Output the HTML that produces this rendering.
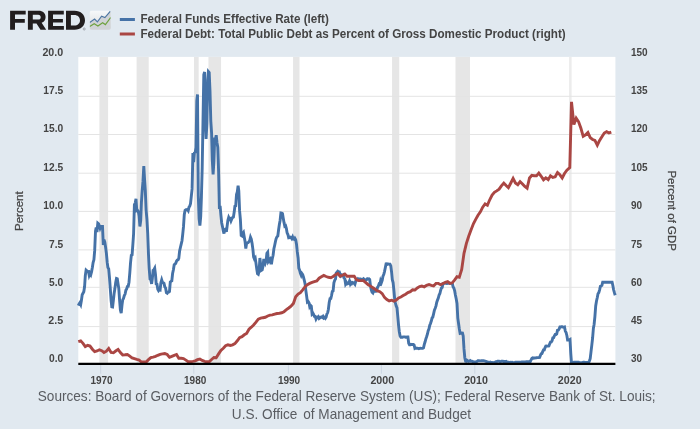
<!DOCTYPE html>
<html><head><meta charset="utf-8"><title>FRED Graph</title>
<style>
html,body{margin:0;padding:0;}
body{width:700px;height:429px;background:#e1e9f0;position:relative;overflow:hidden;font-family:"Liberation Sans",sans-serif;}
</style></head><body>
<svg width="700" height="429" viewBox="0 0 700 429" style="position:absolute;left:0;top:0;will-change:transform">
<rect x="78.3" y="56.9" width="537.1" height="306.8" fill="#fff"/>
<rect x="99.40" y="56.9" width="8.70" height="306.8" fill="#e6e6e6"/>
<rect x="136.60" y="56.9" width="12.10" height="306.8" fill="#e6e6e6"/>
<rect x="194.00" y="56.9" width="4.66" height="306.8" fill="#e6e6e6"/>
<rect x="208.45" y="56.9" width="12.60" height="306.8" fill="#e6e6e6"/>
<rect x="293.07" y="56.9" width="6.43" height="306.8" fill="#e6e6e6"/>
<rect x="392.07" y="56.9" width="7.18" height="306.8" fill="#e6e6e6"/>
<rect x="455.50" y="56.9" width="14.50" height="306.8" fill="#e6e6e6"/>
<rect x="569.07" y="56.9" width="2.53" height="306.8" fill="#ececec"/>
<line x1="78.3" x2="615.4" y1="96.3" y2="96.3" stroke="#e4e4e4" stroke-width="1"/>
<line x1="78.3" x2="615.4" y1="134.5" y2="134.5" stroke="#e4e4e4" stroke-width="1"/>
<line x1="78.3" x2="615.4" y1="173.2" y2="173.2" stroke="#e4e4e4" stroke-width="1"/>
<line x1="78.3" x2="615.4" y1="211.4" y2="211.4" stroke="#e4e4e4" stroke-width="1"/>
<line x1="78.3" x2="615.4" y1="249.9" y2="249.9" stroke="#e4e4e4" stroke-width="1"/>
<line x1="78.3" x2="615.4" y1="287.3" y2="287.3" stroke="#e4e4e4" stroke-width="1"/>
<line x1="78.3" x2="615.4" y1="326.6" y2="326.6" stroke="#e4e4e4" stroke-width="1"/>
<line x1="100.7" x2="100.7" y1="363.7" y2="373.7" stroke="#ccd6e2" stroke-width="1"/>
<line x1="193.8" x2="193.8" y1="363.7" y2="373.7" stroke="#ccd6e2" stroke-width="1"/>
<line x1="288.4" x2="288.4" y1="363.7" y2="373.7" stroke="#ccd6e2" stroke-width="1"/>
<line x1="381.4" x2="381.4" y1="363.7" y2="373.7" stroke="#ccd6e2" stroke-width="1"/>
<line x1="474.8" x2="474.8" y1="363.7" y2="373.7" stroke="#ccd6e2" stroke-width="1"/>
<line x1="569.5" x2="569.5" y1="363.7" y2="373.7" stroke="#ccd6e2" stroke-width="1"/>
<path d="M78.3 305.7 L79.1 304.0 L79.9 302.7 L80.7 304.4 L81.4 300.5 L82.2 294.7 L83.0 293.2 L83.8 291.7 L84.6 286.5 L85.3 275.6 L86.1 270.2 L86.9 270.9 L87.7 271.6 L88.5 271.5 L89.2 275.3 L90.0 273.3 L90.8 274.7 L91.6 271.6 L92.4 267.3 L93.1 262.6 L93.9 259.8 L94.7 250.4 L95.5 231.1 L96.2 227.6 L97.0 232.0 L97.8 223.1 L98.6 223.8 L99.4 226.0 L100.1 228.3 L100.9 226.5 L101.7 226.4 L102.5 226.4 L103.3 245.0 L104.0 239.8 L104.8 242.1 L105.6 247.3 L106.4 253.4 L107.2 262.4 L107.9 267.5 L108.7 268.9 L109.5 278.0 L110.3 288.8 L111.1 300.4 L111.8 306.8 L112.6 307.0 L113.4 300.1 L114.2 292.9 L114.9 288.6 L115.7 282.5 L116.5 278.5 L117.3 278.8 L118.1 284.2 L118.8 288.6 L119.6 300.4 L120.4 310.0 L121.2 313.2 L122.0 305.1 L122.7 299.9 L123.5 298.4 L124.3 295.5 L125.1 294.1 L125.9 290.1 L126.6 289.2 L127.4 286.5 L128.2 286.3 L129.0 282.2 L129.8 272.8 L130.5 263.1 L131.3 255.3 L132.1 254.8 L132.9 243.8 L133.6 233.8 L134.4 204.6 L135.2 203.1 L136.0 198.8 L136.8 210.6 L137.5 210.3 L138.3 211.5 L139.1 216.1 L139.9 226.5 L140.7 220.7 L141.4 202.9 L142.2 190.7 L143.0 181.2 L143.8 166.1 L144.6 180.0 L145.3 190.3 L146.1 209.8 L146.9 219.2 L147.7 233.2 L148.5 254.6 L149.2 268.3 L150.0 279.0 L150.8 279.7 L151.6 283.9 L152.3 278.8 L153.1 270.4 L153.9 269.8 L154.7 268.3 L155.5 274.7 L156.2 283.9 L157.0 284.2 L157.8 289.2 L158.6 290.7 L159.4 289.7 L160.1 290.0 L160.9 282.8 L161.7 279.9 L162.5 282.5 L163.3 282.8 L164.0 283.4 L164.8 286.9 L165.6 288.0 L166.4 292.6 L167.2 293.2 L167.9 292.1 L168.7 292.0 L169.5 291.4 L170.3 281.9 L171.0 281.3 L171.8 280.8 L172.6 273.5 L173.4 269.8 L174.2 264.7 L174.9 264.1 L175.7 263.4 L176.5 261.2 L177.3 260.0 L178.1 259.8 L178.8 258.3 L179.6 251.1 L180.4 247.5 L181.2 244.2 L182.0 240.7 L182.7 234.5 L183.5 226.7 L184.3 214.4 L185.1 210.3 L185.9 209.7 L186.6 209.8 L187.4 209.4 L188.2 210.6 L189.0 207.1 L189.7 206.3 L190.5 203.6 L191.3 196.4 L192.1 188.9 L192.9 153.1 L193.6 162.1 L194.4 152.9 L195.2 152.3 L196.0 147.6 L196.8 100.8 L197.5 94.4 L198.3 195.8 L199.1 218.9 L199.9 225.6 L200.7 216.7 L201.4 197.4 L202.2 167.8 L203.0 121.3 L203.8 74.6 L204.6 71.9 L205.3 120.1 L206.1 138.9 L206.9 123.3 L207.7 80.4 L208.4 71.6 L209.2 72.5 L210.0 91.1 L210.8 121.0 L211.6 133.1 L212.3 160.1 L213.1 174.5 L213.9 161.5 L214.7 137.6 L215.5 139.2 L216.2 135.2 L217.0 142.7 L217.8 147.3 L218.6 171.1 L219.4 208.9 L220.1 206.0 L220.9 215.2 L221.7 223.0 L222.5 226.8 L223.3 230.9 L224.0 233.5 L224.8 229.6 L225.6 229.1 L226.4 231.7 L227.1 226.4 L227.9 220.4 L228.7 217.5 L229.5 219.2 L230.3 218.7 L231.0 220.8 L231.8 218.9 L232.6 217.5 L233.4 217.0 L234.2 212.1 L234.9 206.3 L235.7 205.9 L236.5 194.5 L237.3 191.9 L238.1 185.7 L238.8 190.9 L239.6 210.9 L240.4 219.5 L241.2 235.5 L242.0 236.0 L242.7 233.7 L243.5 232.5 L244.3 237.2 L245.1 241.8 L245.8 248.5 L246.6 243.2 L247.4 242.9 L248.2 242.6 L249.0 241.5 L249.7 240.6 L250.5 237.2 L251.3 239.2 L252.1 243.5 L252.9 249.3 L253.6 256.8 L254.4 258.9 L255.2 257.9 L256.0 263.4 L256.8 269.3 L257.5 273.6 L258.3 274.2 L259.1 271.3 L259.9 258.0 L260.7 265.4 L261.4 270.4 L262.2 269.9 L263.0 266.3 L263.8 258.9 L264.5 260.8 L265.3 263.1 L266.1 260.8 L266.9 253.3 L267.7 252.2 L268.4 261.4 L269.2 260.2 L270.0 259.2 L270.8 263.1 L271.6 263.1 L272.3 258.6 L273.1 255.3 L273.9 248.8 L274.7 245.2 L275.5 241.2 L276.2 238.4 L277.0 236.8 L277.8 236.0 L278.6 229.7 L279.4 224.2 L280.1 220.5 L280.9 213.0 L281.7 213.2 L282.5 213.7 L283.2 217.9 L284.0 222.4 L284.8 226.2 L285.6 225.7 L286.4 228.5 L287.1 232.9 L287.9 234.5 L288.7 237.8 L289.5 237.7 L290.3 237.1 L291.0 237.4 L291.8 238.6 L292.6 236.9 L293.4 239.0 L294.2 239.4 L294.9 238.3 L295.7 239.7 L296.5 244.2 L297.3 251.9 L298.1 258.0 L298.8 268.1 L299.6 270.1 L300.4 273.3 L301.2 275.3 L301.9 273.5 L302.7 274.7 L303.5 277.1 L304.3 280.3 L305.1 284.0 L305.8 290.1 L306.6 295.9 L307.4 302.1 L308.2 301.6 L309.0 302.8 L309.7 306.6 L310.5 305.3 L311.3 306.2 L312.1 314.0 L312.9 313.2 L313.6 314.5 L314.4 316.3 L315.2 316.4 L316.0 319.0 L316.8 317.5 L317.5 317.4 L318.3 316.7 L319.1 318.4 L319.9 317.8 L320.6 317.2 L321.4 316.9 L322.2 317.4 L323.0 316.4 L323.8 318.0 L324.5 317.5 L325.3 318.4 L326.1 317.1 L326.9 314.0 L327.7 312.6 L328.4 309.2 L329.2 302.4 L330.0 298.7 L330.8 298.5 L331.6 295.3 L332.3 291.4 L333.1 290.9 L333.9 282.8 L334.7 280.3 L335.5 279.1 L336.2 273.2 L337.0 272.2 L337.8 271.2 L338.6 271.8 L339.3 271.9 L340.1 274.2 L340.9 275.9 L341.7 275.0 L342.5 275.6 L343.2 275.0 L344.0 278.0 L344.8 278.7 L345.6 283.9 L346.4 282.5 L347.1 283.9 L347.9 283.6 L348.7 283.1 L349.5 281.1 L350.3 283.9 L351.0 282.6 L351.8 283.6 L352.6 282.5 L353.4 282.8 L354.2 283.4 L354.9 284.3 L355.7 281.3 L356.5 279.4 L357.3 279.6 L358.0 278.7 L358.8 279.3 L359.6 279.0 L360.4 279.0 L361.2 279.6 L361.9 279.3 L362.7 279.6 L363.5 278.7 L364.3 279.4 L365.1 279.7 L365.8 280.3 L366.6 279.7 L367.4 278.7 L368.2 279.0 L369.0 278.8 L369.7 279.4 L370.5 286.2 L371.3 289.8 L372.1 292.1 L372.9 292.9 L373.6 290.9 L374.4 290.1 L375.2 291.2 L376.0 291.2 L376.7 290.9 L377.5 287.4 L378.3 286.2 L379.1 283.9 L379.9 284.2 L380.6 280.8 L381.4 282.6 L382.2 280.3 L383.0 276.1 L383.8 274.2 L384.5 271.6 L385.3 267.8 L386.1 263.8 L386.9 263.7 L387.7 264.3 L388.4 264.0 L389.2 264.1 L390.0 264.1 L390.8 265.8 L391.6 272.2 L392.3 279.7 L393.1 282.5 L393.9 290.3 L394.7 299.3 L395.4 303.0 L396.2 306.0 L397.0 307.9 L397.8 316.7 L398.6 325.6 L399.3 331.7 L400.1 335.9 L400.9 337.2 L401.7 337.1 L402.5 337.2 L403.2 336.9 L404.0 336.9 L404.8 336.9 L405.6 337.2 L406.4 337.1 L407.1 336.9 L407.9 336.9 L408.7 343.2 L409.5 344.7 L410.3 344.7 L411.0 344.4 L411.8 344.6 L412.6 344.4 L413.4 344.4 L414.1 345.0 L414.9 348.3 L415.7 347.9 L416.5 348.3 L417.3 348.3 L418.0 348.4 L418.8 348.7 L419.6 348.4 L420.4 348.3 L421.2 348.4 L421.9 348.4 L422.7 348.4 L423.5 347.9 L424.3 344.4 L425.1 341.8 L425.8 339.1 L426.6 336.8 L427.4 334.2 L428.2 330.7 L429.0 328.8 L429.7 325.5 L430.5 323.5 L431.3 321.0 L432.1 317.8 L432.8 317.2 L433.6 313.8 L434.4 310.2 L435.2 308.3 L436.0 305.9 L436.7 302.5 L437.5 300.1 L438.3 298.1 L439.1 295.0 L439.9 293.5 L440.6 290.4 L441.4 288.1 L442.2 287.4 L443.0 283.6 L443.8 283.4 L444.5 283.4 L445.3 283.4 L446.1 283.4 L446.9 283.6 L447.7 283.4 L448.4 283.2 L449.2 283.2 L450.0 283.4 L450.8 283.4 L451.5 283.4 L452.3 283.2 L453.1 286.9 L453.9 288.1 L454.7 290.9 L455.4 295.0 L456.2 298.8 L457.0 303.4 L457.8 318.1 L458.6 323.8 L459.3 328.8 L460.1 333.4 L460.9 333.1 L461.7 333.0 L462.5 333.1 L463.2 336.0 L464.0 348.9 L464.8 357.7 L465.6 361.3 L466.4 361.4 L467.1 360.3 L467.9 360.9 L468.7 361.4 L469.5 360.9 L470.2 360.5 L471.0 361.3 L471.8 361.3 L472.6 361.4 L473.4 361.9 L474.1 361.9 L474.9 361.9 L475.7 362.0 L476.5 361.7 L477.3 361.3 L478.0 360.6 L478.8 360.6 L479.6 360.9 L480.4 360.9 L481.2 360.8 L481.9 360.8 L482.7 360.8 L483.5 360.8 L484.3 360.9 L485.1 361.1 L485.8 361.3 L486.6 361.6 L487.4 362.2 L488.2 362.3 L488.9 362.3 L489.7 362.6 L490.5 362.2 L491.3 362.5 L492.1 362.6 L492.8 362.5 L493.6 362.6 L494.4 362.5 L495.2 362.2 L496.0 361.7 L496.7 361.6 L497.5 361.3 L498.3 361.3 L499.1 361.3 L499.9 361.7 L500.6 361.6 L501.4 361.3 L502.2 361.3 L503.0 361.3 L503.8 361.6 L504.5 361.4 L505.3 361.6 L506.1 361.4 L506.9 362.0 L507.6 362.3 L508.4 362.3 L509.2 362.5 L510.0 362.5 L510.8 362.3 L511.5 362.5 L512.3 362.3 L513.1 362.6 L513.9 362.6 L514.7 362.5 L515.4 362.3 L516.2 362.3 L517.0 362.2 L517.8 362.3 L518.6 362.3 L519.3 362.3 L520.1 362.3 L520.9 362.3 L521.7 361.9 L522.5 362.0 L523.2 362.0 L524.0 362.0 L524.8 361.9 L525.6 361.9 L526.3 361.7 L527.1 361.7 L527.9 361.6 L528.7 361.6 L529.5 361.9 L530.2 361.9 L531.0 360.0 L531.8 358.5 L532.6 357.9 L533.4 358.2 L534.1 358.0 L534.9 358.0 L535.7 357.9 L536.5 357.7 L537.3 357.6 L538.0 357.6 L538.8 357.6 L539.6 357.4 L540.4 355.4 L541.2 353.8 L541.9 353.6 L542.7 351.6 L543.5 349.9 L544.3 349.8 L545.0 347.8 L545.8 346.1 L546.6 346.0 L547.4 346.1 L548.2 346.1 L548.9 346.0 L549.7 343.8 L550.5 342.1 L551.3 342.0 L552.1 340.6 L552.8 337.9 L553.6 337.7 L554.4 335.9 L555.2 334.5 L556.0 334.5 L556.7 333.9 L557.5 330.2 L558.3 330.1 L559.1 329.0 L559.9 327.0 L560.6 327.0 L561.4 326.8 L562.2 326.7 L563.0 327.1 L563.7 327.3 L564.5 327.0 L565.3 331.1 L566.1 332.5 L566.9 335.7 L567.6 340.0 L568.4 340.0 L569.2 340.0 L570.0 339.5 L570.8 353.8 L571.5 362.9 L572.3 362.9 L573.1 362.5 L573.9 362.3 L574.7 362.2 L575.4 362.3 L576.2 362.3 L577.0 362.3 L577.8 362.3 L578.6 362.3 L579.3 362.5 L580.1 362.6 L580.9 362.6 L581.7 362.8 L582.4 362.5 L583.2 362.2 L584.0 362.3 L584.8 362.5 L585.6 362.5 L586.3 362.5 L587.1 362.5 L587.9 362.5 L588.7 362.5 L589.5 360.6 L590.2 358.7 L591.0 351.9 L591.8 345.2 L592.6 338.0 L593.4 328.1 L594.1 324.5 L594.9 316.6 L595.7 305.9 L596.5 301.0 L597.3 297.5 L598.0 293.8 L598.8 292.6 L599.6 289.8 L600.4 286.3 L601.1 286.0 L601.9 285.4 L602.7 282.2 L603.5 282.2 L604.3 282.2 L605.0 282.2 L605.8 282.2 L606.6 282.2 L607.4 282.2 L608.2 282.2 L608.9 282.2 L609.7 282.2 L610.5 282.2 L611.3 282.2 L612.1 282.2 L612.8 285.2 L613.6 289.8 L614.4 292.7 L615.2 295.2" fill="none" stroke="#4572A7" stroke-width="2.9" stroke-linejoin="miter" stroke-miterlimit="4" stroke-linecap="butt"/>
<path d="M78.3 341.6 L80.7 340.8 L83.0 343.3 L85.3 346.6 L87.7 345.3 L90.0 346.1 L92.4 349.2 L94.7 351.7 L97.0 351.0 L99.4 349.8 L101.7 350.7 L104.0 352.5 L106.4 351.2 L108.7 348.5 L111.1 352.5 L113.4 352.8 L115.7 351.0 L118.1 349.4 L120.4 352.5 L122.7 355.0 L125.1 354.8 L127.4 354.5 L129.8 356.1 L132.1 358.0 L134.4 358.7 L136.8 359.4 L139.1 360.0 L141.4 362.0 L143.8 362.0 L146.1 362.0 L148.5 359.6 L150.8 357.6 L153.1 357.1 L155.5 356.4 L157.8 355.3 L160.1 354.3 L162.5 353.9 L164.8 353.6 L167.2 354.5 L169.5 357.3 L171.8 356.3 L174.2 355.3 L176.5 354.5 L178.8 358.3 L181.2 358.2 L183.5 358.6 L185.9 360.1 L188.2 361.7 L190.5 361.8 L192.9 361.4 L195.2 360.9 L197.5 359.7 L199.9 359.0 L202.2 360.4 L204.6 361.4 L206.9 361.8 L209.2 361.8 L211.6 359.5 L213.9 357.5 L216.2 357.8 L218.6 353.9 L220.9 350.4 L223.3 348.2 L225.6 345.7 L227.9 344.8 L230.3 345.5 L232.6 344.8 L234.9 343.6 L237.3 340.8 L239.6 337.6 L242.0 336.7 L244.3 334.8 L246.6 333.4 L249.0 329.2 L251.3 327.2 L253.6 325.0 L256.0 322.1 L258.3 319.1 L260.7 318.2 L263.0 317.7 L265.3 317.3 L267.7 316.0 L270.0 315.1 L272.3 314.9 L274.7 314.1 L277.0 313.5 L279.4 313.2 L281.7 312.8 L284.0 311.7 L286.4 309.7 L288.7 308.0 L291.0 306.2 L293.4 303.4 L295.7 296.8 L298.1 294.1 L300.4 292.6 L302.7 289.8 L305.1 286.7 L307.4 284.7 L309.7 283.4 L312.1 282.4 L314.4 281.6 L316.8 280.9 L319.1 278.2 L321.4 276.8 L323.8 275.4 L326.1 276.5 L328.4 277.3 L330.8 277.7 L333.1 276.5 L335.5 274.7 L337.8 273.6 L340.1 276.3 L342.5 275.2 L344.8 274.0 L347.1 276.3 L349.5 276.3 L351.8 276.3 L354.2 276.3 L356.5 279.8 L358.8 280.6 L361.2 280.6 L363.5 280.6 L365.8 282.7 L368.2 284.7 L370.5 286.1 L372.9 287.7 L375.2 289.3 L377.5 290.9 L379.9 291.7 L382.2 293.6 L384.5 297.4 L386.9 299.5 L389.2 301.0 L391.6 300.2 L393.9 301.2 L396.2 300.0 L398.6 297.9 L400.9 297.0 L403.2 295.6 L405.6 294.2 L407.9 292.6 L410.3 291.7 L412.6 289.8 L414.9 290.0 L417.3 287.9 L419.6 286.6 L421.9 286.0 L424.3 286.8 L426.6 285.3 L429.0 284.5 L431.3 285.4 L433.6 286.0 L436.0 283.4 L438.3 283.4 L440.6 284.7 L443.0 283.5 L445.3 282.4 L447.7 281.6 L450.0 283.4 L452.3 282.8 L454.7 279.8 L457.0 276.6 L459.3 277.3 L461.7 269.4 L464.0 253.3 L466.4 243.4 L468.7 236.2 L471.0 230.1 L473.4 223.8 L475.7 219.4 L478.0 215.3 L480.4 211.8 L482.7 207.2 L485.1 204.0 L487.4 205.3 L489.7 199.8 L492.1 195.1 L494.4 192.4 L496.7 190.9 L499.1 189.2 L501.4 185.9 L503.8 183.1 L506.1 185.5 L508.4 187.7 L510.8 183.0 L513.1 178.4 L515.4 183.0 L517.8 184.7 L520.1 181.7 L522.5 184.0 L524.8 186.5 L527.1 188.3 L529.5 177.9 L531.8 175.4 L534.1 175.7 L536.5 175.8 L538.8 173.0 L541.2 176.3 L543.5 179.9 L545.8 177.9 L548.2 179.7 L550.5 175.8 L552.8 177.4 L555.2 176.8 L557.5 172.5 L559.9 174.8 L562.2 178.0 L564.5 173.5 L566.9 170.2 L569.8 167.5 L571.5 101.9 L573.9 124.6 L576.2 118.2 L578.6 121.8 L580.9 128.3 L583.2 136.3 L585.6 134.8 L587.9 132.5 L590.2 137.6 L592.6 139.5 L594.9 140.4 L597.3 145.2 L599.6 140.4 L601.9 136.7 L604.3 133.0 L606.6 131.7 L608.9 133.0 L611.3 132.2" fill="none" stroke="#AA4643" stroke-width="2.9" stroke-linejoin="miter" stroke-miterlimit="4" stroke-linecap="butt"/>
<line x1="78.3" x2="615.4" y1="363.8" y2="363.8" stroke="#000" stroke-width="2.2"/>
<line x1="119.8" x2="134.9" y1="19.5" y2="19.5" stroke="#4572A7" stroke-width="3"/>
<line x1="119.8" x2="134.9" y1="34" y2="34" stroke="#AA4643" stroke-width="3"/>
<g style="font-family:'Liberation Sans',sans-serif;font-weight:bold;font-size:12px" fill="#444">
<text transform="translate(140.4,22.9) scale(0.9716,1)">Federal Funds Effective Rate (left)</text>
<text transform="translate(140.4,37.8) scale(0.9716,1)">Federal Debt: Total Public Debt as Percent of Gross Domestic Product (right)</text>
</g>
<g style="font-family:'Liberation Sans',sans-serif;font-weight:bold;font-size:10px" fill="#444">
<text transform="translate(63.2,56) scale(1.07,1)" text-anchor="end">20.0</text>
<text transform="translate(63.2,94) scale(1.02,1)" text-anchor="end">17.5</text>
<text transform="translate(63.2,132) scale(1.02,1)" text-anchor="end">15.0</text>
<text transform="translate(63.2,171) scale(1.02,1)" text-anchor="end">12.5</text>
<text transform="translate(63.2,209) scale(1.02,1)" text-anchor="end">10.0</text>
<text transform="translate(63.2,248) scale(1.02,1)" text-anchor="end">7.5</text>
<text transform="translate(63.2,286) scale(1.02,1)" text-anchor="end">5.0</text>
<text transform="translate(63.2,324) scale(1.07,1)" text-anchor="end">2.5</text>
<text transform="translate(63.2,362) scale(1.02,1)" text-anchor="end">0.0</text>
<text x="630.9" y="56">150</text>
<text x="630.9" y="94">135</text>
<text x="630.9" y="132">120</text>
<text x="630.9" y="171">105</text>
<text x="630.9" y="209">90</text>
<text x="630.9" y="248">75</text>
<text x="630.9" y="286">60</text>
<text x="630.9" y="324">45</text>
<text x="630.9" y="362">30</text>
<text x="101.5" y="383.5" text-anchor="middle">1970</text>
<text x="195.2" y="383.5" text-anchor="middle">1980</text>
<text x="289.0" y="383.5" text-anchor="middle">1990</text>
<text transform="translate(382.27,383.5) scale(1.07,1)" text-anchor="middle">2000</text>
<text transform="translate(476.01,383.5) scale(1.07,1)" text-anchor="middle">2010</text>
<text transform="translate(569.75,383.5) scale(1.07,1)" text-anchor="middle">2020</text>
</g>
<g style="font-family:'Liberation Sans',sans-serif;font-size:11.5px" fill="#444" stroke="#444" stroke-width="0.25">
<text transform="translate(23.1,211.2) rotate(-90)" text-anchor="middle">Percent</text>
<text transform="translate(667.9,210.7) rotate(90)" text-anchor="middle">Percent of GDP</text>
</g>
<g style="font-family:'Liberation Sans',sans-serif;font-size:14px" fill="#5a5d62">
<text transform="translate(37.75,400.9) scale(0.973,1)">Sources: Board of Governors of the Federal Reserve System (US); Federal Reserve Bank of St. Louis;</text>
<text transform="translate(231.8,419) scale(0.973,1)">U.S. Office <tspan dx="2.1">of Management and Budget</tspan></text>
</g>
<g fill="#211d1e" fill-rule="evenodd">
<path d="M10.1 10.8H25.7V14.6H15V19H24.8V22.7H15V29.7H10.1Z"/>
<path d="M27.9 10.8H38.6C43 10.8 45.6 13.4 45.6 17C45.6 19.9 44 21.9 41.6 22.8L46.2 29.7H40.5L36.5 23.4H32.8V29.7H27.9ZM32.8 14.7V19.6H38.2C39.9 19.6 40.7 18.5 40.7 17.15C40.7 15.8 39.9 14.7 38.2 14.7Z"/>
<path d="M48.1 10.8H63.8V14.6H53V18.9H62.9V22.5H53V25.9H63.9V29.7H48.1Z"/>
<path d="M66 10.8H74.5C80.9 10.8 85 14.7 85 20.25C85 25.8 80.9 29.7 74.5 29.7H66ZM70.9 14.9V25.6H74.3C77.7 25.6 80 23.4 80 20.25C80 17.1 77.7 14.9 74.3 14.9Z"/>
</g>
<circle cx="84.2" cy="29" r="1.05" fill="none" stroke="#7d8289" stroke-width="0.6"/>
<defs><linearGradient id="ig" x1="0" y1="0" x2="0" y2="1"><stop offset="0" stop-color="#f6f8fa"/><stop offset="1" stop-color="#d9dbde"/></linearGradient><clipPath id="ic"><rect x="89.7" y="10.8" width="21.1" height="18.9" rx="2"/></clipPath></defs>
<rect x="89.7" y="10.8" width="21.1" height="18.9" rx="2" fill="url(#ig)"/>
<g clip-path="url(#ic)">
<path d="M89.7 22.5L94.6 19L97.4 21.8L101.6 16.2L104.9 17.6L110.8 10.8V29.7H89.7Z" fill="#d0d3d6"/>
<path d="M89.7 26.5L94.2 23.7L97.9 26L102.6 22.7L105.4 24.6L110.6 17.5" fill="none" stroke="#6fa240" stroke-width="1.15"/>
<path d="M89.7 22.5L94.6 19L97.4 21.8L101.6 16.2L104.9 17.6L110.6 11" fill="none" stroke="#5078a4" stroke-width="1.15"/>
</g>
</svg>
</body></html>
